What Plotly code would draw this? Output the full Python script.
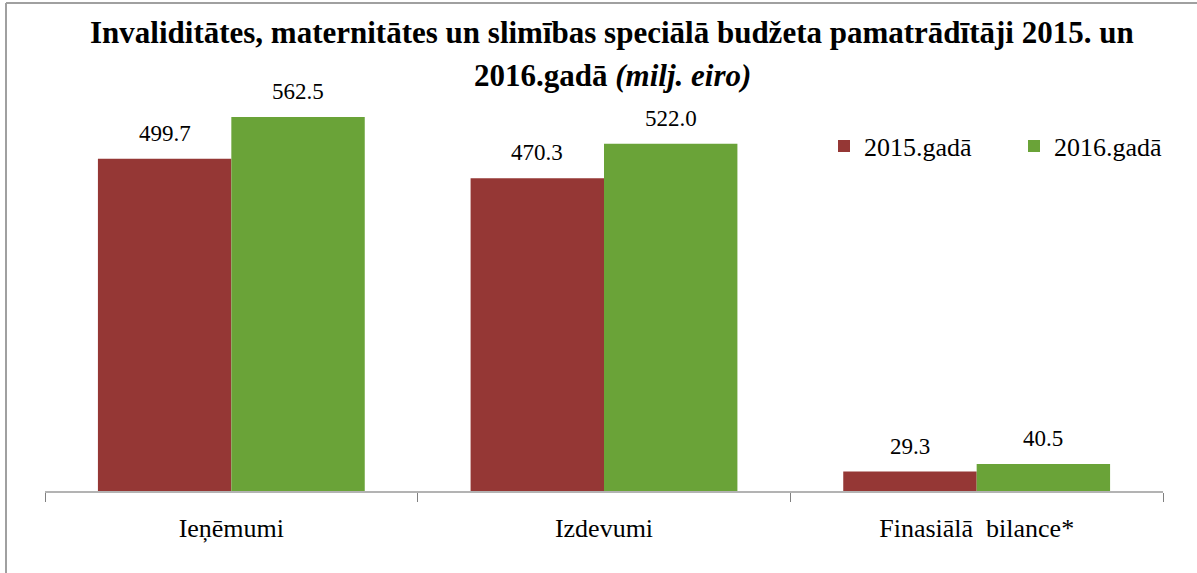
import plotly.graph_objects as go

categories = ["Ieņēmumi", "Izdevumi", "Finasiālā  bilance*"]
series_names = ["2015.gadā", "2016.gadā"]
values_2015 = [499.7, 470.3, 29.3]
values_2016 = [562.5, 522.0, 40.5]
colors = ["#953735", "#6aa338"]

SERIF = "Liberation Serif, Times New Roman, DejaVu Serif, serif"
W, H = 1197, 573
ML, MR, MT, MB = 45, 34, 92, 82
pw = W - ML - MR
ph = H - MT - MB
BARGAP = 0.284
cat_w = pw / len(categories)
bar_w = cat_w * (1 - BARGAP) / 2

fig = go.Figure()
for name, vals, col in zip(series_names, [values_2015, values_2016], colors):
    fig.add_trace(go.Bar(x=categories, y=vals, name=name, marker_color=col,
                         marker_line_width=0))

# data labels
for i, vals in enumerate([values_2015, values_2016]):
    shift = (i - 0.5) * bar_w
    for c, v in zip(categories, vals):
        fig.add_annotation(x=c, y=v, text=f"{v:.1f}", showarrow=False,
                           xshift=shift, yshift=11, yanchor="bottom",
                           font=dict(family=SERIF, size=23, color="#000"))

# title
tx = (612 - ML) / pw
fig.add_annotation(xref="paper", yref="paper", x=tx, y=(H - MB - 33) / ph,
                   text="<b>Invaliditātes, maternitātes un slimības speciālā budžeta pamatrādītāji 2015. un</b>",
                   showarrow=False, xanchor="center", yanchor="middle",
                   font=dict(family=SERIF, size=31, color="#000"))
fig.add_annotation(xref="paper", yref="paper", x=tx, y=(H - MB - 75) / ph,
                   text="<b>2016.gadā <i>(milj. eiro)</i></b>",
                   showarrow=False, xanchor="center", yanchor="middle",
                   font=dict(family=SERIF, size=31, color="#000"))

# outer border (top and left)
bx0 = (6 - ML) / pw
bx1 = (W - ML) / pw
by_top = (H - MB - 3) / ph
by_bot = (H - MB - H) / ph
fig.add_shape(type="line", xref="paper", yref="paper", x0=bx0, x1=bx1, y0=by_top, y1=by_top,
              line=dict(color="#a0a0a0", width=2))
fig.add_shape(type="line", xref="paper", yref="paper", x0=bx0, x1=bx0, y0=by_top, y1=by_bot,
              line=dict(color="#a0a0a0", width=2))

fig.update_layout(
    width=W, height=H,
    margin=dict(l=ML, r=MR, t=MT, b=MB, autoexpand=False),
    paper_bgcolor="white", plot_bgcolor="white",
    barmode="group", bargap=BARGAP, bargroupgap=0,
    font=dict(family=SERIF, size=23, color="#000"),
    showlegend=True,
    legend=dict(orientation="h", x=(824 - ML) / pw, y=(H - MB - 146) / ph,
                xanchor="left", yanchor="middle",
                font=dict(family=SERIF, size=26, color="#000"),
                itemwidth=30, entrywidth=145, entrywidthmode="pixels",
                bgcolor="rgba(0,0,0,0)", tracegroupgap=0),
    xaxis=dict(showline=True, linecolor="#b3b3b3", linewidth=2,
               ticks="outside", tickson="boundaries", ticklen=9, tickcolor="#808080",
               tickwidth=1, ticklabelstandoff=13,
               tickfont=dict(family=SERIF, size=26, color="#000")),
    yaxis=dict(range=[0, 600], visible=False, showgrid=False, zeroline=False),
)

fig.write_html("out.html", config={"displayModeBar": False},
               post_script="document.body.style.margin='0';document.body.style.padding='0';")
